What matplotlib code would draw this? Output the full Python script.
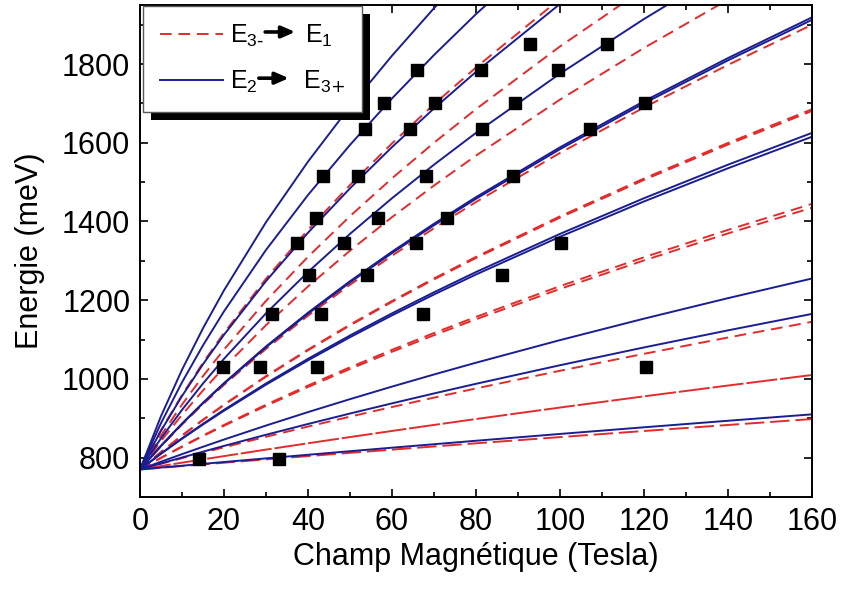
import matplotlib
matplotlib.use("Agg")
import matplotlib.pyplot as plt
from matplotlib.lines import Line2D
from matplotlib.patches import Rectangle
from matplotlib.ticker import MultipleLocator

plt.rcParams['font.family'] = ['Liberation Sans', 'DejaVu Sans']

BLUE = '#1b1e92'
RED = '#e32b2b'

# magnetic field grid (Tesla)
B = [0, 5, 10, 15, 20, 30, 40, 50, 60, 70, 80, 100, 120, 140, 160]

# E2 -> E3+ transitions (meV), solid blue
blue_curves = [
    [770, 905.5, 1023.2, 1128.7, 1225.1, 1398.2, 1552.1, 1692.0, 1821.2, 1941.9, 2055.5],
    [770, 887.6, 991.4, 1085.3, 1171.7, 1327.7, 1467.3, 1594.6, 1712.6, 1822.9, 1926.9, 2119.6],
    [770, 868.3, 956.5, 1037.3, 1112.2, 1248.6, 1371.5, 1484.2, 1589.0, 1687.3, 1780.1, 1952.7],
    [770, 849.1, 921.4, 988.4, 1051.1, 1166.6, 1271.6, 1368.5, 1459.1, 1544.3, 1625.1, 1775.6, 1914.4, 2043.7],
    [770, 830.3, 886.5, 939.4, 989.4, 1082.5, 1168.3, 1248.2, 1323.2, 1394.2, 1461.8, 1588.4, 1705.5, 1815.2, 1918.6],
    [770, 829.8, 885.7, 938.2, 987.9, 1080.4, 1165.7, 1245.2, 1319.8, 1390.4, 1457.7, 1583.7, 1700.2, 1809.4, 1912.3],
    [770, 810.5, 849.1, 885.9, 921.4, 988.4, 1051.1, 1110.4, 1166.6, 1220.2, 1271.6, 1368.5, 1459.1, 1544.3, 1625.1],
    [770, 809.9, 847.9, 884.2, 919.2, 985.4, 1047.3, 1105.9, 1161.5, 1214.5, 1265.3, 1361.2, 1450.9, 1535.2, 1615.3],
    [770, 789.7, 808.9, 827.6, 846.0, 881.5, 915.7, 948.6, 980.5, 1011.3, 1041.2, 1098.6, 1153.1, 1205.2, 1255.1],
    [770, 785.4, 800.4, 815.2, 829.8, 858.1, 885.5, 912.1, 937.9, 963.1, 987.6, 1034.8, 1080.0, 1123.4, 1165.2],
    [770, 774.8, 779.5, 784.2, 788.9, 798.1, 807.3, 816.3, 825.3, 834.1, 842.9, 860.2, 877.1, 893.7, 910.0],
]

# E3- -> E1 transitions (meV), dashed red
red_curves = [
    [770, 869.7, 959.1, 1040.9, 1116.7, 1254.6, 1378.8, 1492.6, 1598.4, 1697.7, 1791.3, 1965.5],
    [770, 856.4, 934.8, 1007.2, 1074.7, 1198.3, 1310.3, 1413.5, 1509.6, 1600.0, 1685.5, 1844.7, 1991.2],
    [770, 842.3, 908.8, 970.8, 1029.0, 1136.6, 1234.9, 1325.9, 1411.0, 1491.3, 1567.4, 1709.6, 1840.9, 1963.4],
    [770, 828.9, 884.0, 935.8, 984.9, 1076.3, 1160.6, 1239.2, 1313.0, 1382.9, 1449.5, 1574.2, 1689.7, 1797.8, 1899.8],
    [770, 814.3, 856.3, 896.4, 934.7, 1007.0, 1074.5, 1137.9, 1198.0, 1255.3, 1310.0, 1413.1, 1509.2, 1599.5, 1685.0],
    [770, 814.0, 855.8, 895.6, 933.7, 1005.7, 1072.8, 1135.9, 1195.7, 1252.8, 1307.3, 1409.9, 1505.6, 1595.6, 1680.7],
    [770, 799.7, 828.4, 856.2, 883.0, 934.4, 983.1, 1029.5, 1073.9, 1116.6, 1157.6, 1235.7, 1309.1, 1378.6, 1444.7],
    [770, 799.2, 827.3, 854.7, 881.0, 931.6, 979.5, 1025.3, 1069.0, 1111.1, 1151.6, 1228.6, 1301.1, 1369.7, 1435.0],
    [770, 784.4, 798.6, 812.6, 826.3, 853.0, 878.9, 904.1, 928.6, 952.5, 975.8, 1020.7, 1063.8, 1105.2, 1145.1],
    [770, 778.6, 787.2, 795.6, 803.9, 820.4, 836.5, 852.3, 867.8, 883.1, 898.1, 927.3, 955.7, 983.2, 1010.0],
    [770, 774.3, 778.6, 782.9, 787.1, 795.6, 803.9, 812.2, 820.3, 828.4, 836.4, 852.2, 867.7, 883.0, 898.0],
]
red_dashes = [(6, 3.5)] * 9 + [(16, 1.5), (10, 3)]

# measured points
sq_B = [14.0, 33.1,
        19.8, 28.6, 42.1, 120.5,
        31.4, 43.1, 67.4,
        40.2, 54.0, 86.2,
        37.4, 48.6, 65.7, 100.2,
        41.9, 56.7, 73.1,
        43.6, 51.9, 68.1, 88.8,
        53.6, 64.3, 81.4, 107.1,
        58.1, 70.2, 89.3, 120.2,
        66.0, 81.2, 99.6,
        92.9, 111.2]
sq_E = [797, 797,
        1030, 1030, 1030, 1030,
        1165, 1165, 1165,
        1265, 1265, 1265,
        1345, 1345, 1345, 1345,
        1410, 1410, 1410,
        1515, 1515, 1515, 1515,
        1635, 1635, 1635, 1635,
        1700, 1700, 1700, 1700,
        1785, 1785, 1785,
        1852, 1852]

fig = plt.figure(figsize=(8.42, 5.90), dpi=100)
ax = fig.add_axes([140 / 842, 1 - 497 / 590, 672 / 842, 492 / 590])

for vals, dsh in zip(red_curves, red_dashes):
    ax.plot(B[:len(vals)], vals, color=RED, lw=1.4, dashes=dsh)
for vals in blue_curves:
    ax.plot(B[:len(vals)], vals, color=BLUE, lw=1.4)
ax.plot(sq_B, sq_E, 's', color='black', ms=8, ls='none', zorder=5)

ax.set_xlim(0, 160)
ax.set_ylim(700, 1950)
ax.xaxis.set_major_locator(MultipleLocator(20))
ax.xaxis.set_minor_locator(MultipleLocator(10))
ax.yaxis.set_major_locator(MultipleLocator(200))
ax.yaxis.set_minor_locator(MultipleLocator(100))
ax.tick_params(which='both', direction='in', top=True, right=True, width=1.2)
ax.tick_params(which='major', length=6, labelsize=22, pad=7)
ax.tick_params(which='minor', length=3.5)
for sp in ax.spines.values():
    sp.set_linewidth(1.4)
ax.set_xlabel('Champ Magnétique (Tesla)', fontsize=22, labelpad=4)
ax.set_ylabel('Energie (meV)', fontsize=22, labelpad=12)

# legend
fs = 18
handles = [Line2D([], [], color=RED, lw=1.4, dashes=(6, 3.5)),
           Line2D([], [], color=BLUE, lw=1.4)]
prefixes = [r'E$_{\mathregular{3}\text{-}}$', r'E$_{\mathregular{2}}$']
labels = [prefixes[0] + r'$\hspace{1.7}$E$_{\mathregular{1}}$',
          prefixes[1] + r'$\hspace{1.9}$E$_{\mathregular{3}\text{+}}$']
leg = ax.legend(handles, labels, loc='upper left', bbox_to_anchor=(0.0045, 0.998),
                borderaxespad=0, fontsize=fs, handlelength=2.5, handletextpad=0.3,
                labelspacing=0.8, borderpad=0.68, fancybox=False, framealpha=1,
                edgecolor='0.35')
leg.get_frame().set_linewidth(1.0)
leg.set_zorder(10)

fig.canvas.draw()
r = fig.canvas.get_renderer()
bb = leg.get_window_extent(r)
inv = ax.transAxes.inverted()
(x0, y0), (x1, y1) = inv.transform([[bb.x0 + 8, bb.y0 - 8], [bb.x1 + 8, bb.y1 - 8]])
ax.add_patch(Rectangle((x0, y0), x1 - x0, y1 - y0, transform=ax.transAxes,
                       facecolor='black', edgecolor='none', clip_on=False, zorder=9))

fs_px = fs * 100 / 72
for t, pre in zip(leg.get_texts(), prefixes):
    tb = t.get_window_extent(r)
    tmp = fig.text(0, 0, pre, fontsize=fs)
    w = tmp.get_window_extent(r).width
    tmp.remove()
    xa = tb.x0 + w + 1
    ya = tb.y1 - 0.36 * fs_px
    ax.annotate('', xy=(xa + 30, ya), xytext=(xa, ya), xycoords='figure pixels',
                textcoords='figure pixels', zorder=11,
                arrowprops=dict(arrowstyle='-|>,head_length=0.8,head_width=0.35',
                                color='black', lw=2.6, shrinkA=0, shrinkB=0))

fig.savefig('out.png', dpi=100)
